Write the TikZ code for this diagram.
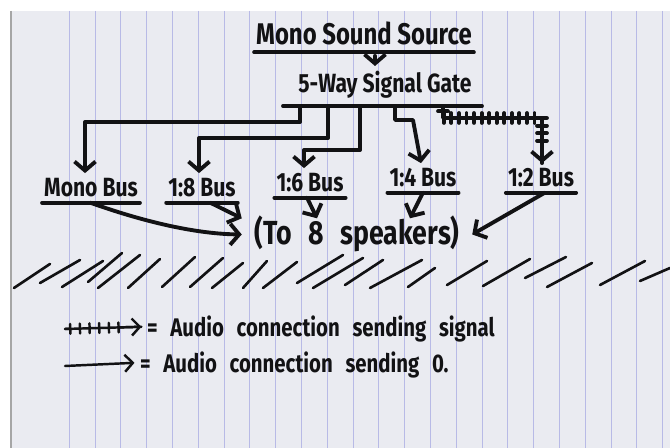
\documentclass[tikz,border=0pt]{standalone}
\usepackage{fontspec}
\setmainfont{Fira Sans}[FakeStretch=0.8]
\usetikzlibrary{arrows.meta,decorations.pathreplacing}

\definecolor{paper}{RGB}{234,235,241}
\definecolor{rule}{RGB}{184,186,230}
\definecolor{ink}{RGB}{18,18,20}

\newcommand{\handfont}[1]{\bfseries\fontsize{#1}{#1}\selectfont}
\newcommand{\loosespaces}{\spaceskip 0.5em\relax}

\begin{document}
\begin{tikzpicture}[
	x=0.02cm,y=-0.02cm,
	>={Straight Barb[length=1.8mm,width=4.2mm]},
	pen/.style={ink, line width=2.2pt, line cap=round, line join=round},
	thinpen/.style={ink, line width=1.4pt, line cap=round, line join=round},
	sig/.style={postaction={draw, -, decorate, decoration={ticks, segment length=#1, amplitude=2.8pt, pre length=3pt, post length=11pt}}},
	sig/.default=4.3pt,
	hand/.style={text=ink, font={\handfont{#1}}, inner xsep=1pt, inner ysep=3pt, text depth=0pt},
	loose/.style={hand=#1, execute at begin node=\loosespaces}
	]
	
	\useasboundingbox (0,0) rectangle (670,448);
	
	% --------------------------
	% Sheet of lined paper
	% --------------------------
	\fill[white] (0,0) rectangle (670,448);
	\fill[paper] (11,11) rectangle (670,448);
	\foreach \k in {0,...,23}
		\draw[rule, line width=0.5pt] ({69.3+25.8*\k},11) -- ({69.3+25.8*\k},448);
	\draw[gray!70, line width=0.8pt] (11,11) -- (11,448);
	
	% --------------------------
	% Source and gate
	% --------------------------
	\node[hand=17pt, anchor=base, inner ysep=4pt] (source) at (364,45) {Mono Sound Source};
	\draw[pen] (source.south west) -- (source.south east);
	
	\node[hand=15pt, anchor=base] (gate) at (385,93) {5-Way Signal Gate};
	\coordinate (bar) at (385,106);
	\draw[pen] (283,0 |- bar) -- (482,0 |- bar);
	
	\draw[pen,->, shorten <=2pt] (375,0 |- source.south) -- (375,0 |- gate.north);
	
	% --------------------------
	% Buses
	% --------------------------
	\node[hand=15pt, anchor=base] (mono) at (91,197) {Mono Bus};
	\node[hand=15pt, anchor=base] (b18) at (202,197) {1:8 Bus};
	\node[hand=15pt, anchor=base] (b16) at (310,192) {1:6 Bus};
	\node[hand=15pt, anchor=base] (b14) at (423,187) {1:4 Bus};
	\node[hand=15pt, anchor=base] (b12) at (541,187) {1:2 Bus};
	\foreach \b in {mono,b18,b16,b14,b12}
		\draw[pen] (\b.south west) -- (\b.south east);
	
	% gate outputs (only the 1:2 bus gets the signal)
	\draw[pen,->] (300,0 |- bar) |- (85,122) -- (85,0 |- mono.north);
	\draw[pen,->] (328,0 |- bar) |- (199,138) -- (199,0 |- b18.north);
	\draw[pen,->] (360,0 |- bar) |- (304,150) -- (304,0 |- b16.north);
	\draw[pen,->] (395,0 |- bar) |- (413,120) -- (421,0 |- b14.north);
	\draw[pen,sig,->] (443,0 |- bar) |- (542,118) -- (542,0 |- b12.north);
	
	% --------------------------
	% Speakers
	% --------------------------
	\node[loose=19pt, anchor=base, inner xsep=7pt, text height=12pt] (spk) at (357,245) {(To 8 speakers)};
	
	\draw[pen,->] (90,0 |- mono.south) .. controls (150,224) and (200,234) .. (spk.west);
	\draw[pen,->] (210,0 |- b18.south) -- (spk.north west);
	\draw[pen,->] (307,0 |- b16.south) -- (317,0 |- spk.north);
	\draw[pen,->] (423,0 |- b14.south) -- (410,0 |- spk.north);
	\draw[pen,->] (545,0 |- b12.south) -- (spk.east);
	
	% --------------------------
	% Divider strokes
	% --------------------------
	\foreach \xa/\ya/\xb/\yb in {14/288/50/264, 40/283/80/260, 62/287/103/261, 88/282/122/253,
		98/288/140/255, 128/288/160/259, 162/287/195/257, 190/287/223/258, 212/288/243/263,
		243/288/267/261, 263/288/297/262, 297/283/343/255, 313/288/363/258, 345/285/383/260,
		370/288/422/260, 408/287/435/268, 447/285/487/261, 483/286/530/259, 525/278/566/257,
		547/287/592/263, 600/285/645/261, 640/281/670/268}
		\draw[pen, line width=1.5pt] (\xa,\ya) -- (\xb,\yb);
	
	% --------------------------
	% Legend
	% --------------------------
	\node[loose=14.5pt, anchor=base west] (lsig) at (145,337) {= Audio connection sending signal};
	\node[loose=14.5pt, anchor=base west] (lzero) at (138,373) {= Audio connection sending 0.};
	
	\coordinate (lsigstart) at (65,329);
	\coordinate (lzerostart) at (65,366);
	\draw[thinpen, sig=5.5pt, -{Straight Barb[length=1.6mm,width=3.4mm]}, shorten >=2pt] (lsigstart) -- (lsig.west);
	\draw[thinpen, -{Straight Barb[length=1.6mm,width=3.4mm]}, shorten >=2pt] (lzerostart) -- (lzero.west);
	
\end{tikzpicture}
\end{document}
